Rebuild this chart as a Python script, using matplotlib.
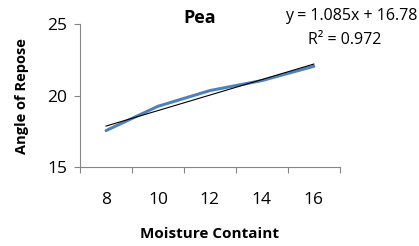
import numpy as np
import matplotlib
matplotlib.use('Agg')
import matplotlib.pyplot as plt

plt.rcParams['font.family'] = ['Open Sans', 'DejaVu Sans']

moisture = ['8', '10', '12', '14', '16']
angle = [17.55, 19.25, 20.35, 21.05, 22.05]
slope = 1.085
intercept = 16.78

fig = plt.figure(figsize=(4.19, 2.46), dpi=100)
ax = fig.add_axes([0.191, 0.321, 0.62, 0.581])

x = np.arange(1, len(moisture) + 1)
ax.plot(x, angle, color='#4F81BD', lw=2.2, solid_capstyle='round', zorder=2)
ax.plot(x, slope * x + intercept, color='black', lw=0.8, zorder=3)

ax.set_xlim(0.5, len(moisture) + 0.5)
ax.set_ylim(15, 25)
ax.set_yticks([15, 20, 25])
ax.set_xticks(np.arange(0.5, len(moisture) + 1, 1))
ax.set_xticklabels([])
ax.set_xticks(x, minor=True)
ax.set_xticklabels(moisture, minor=True)
ax.tick_params(axis='x', which='major', length=4, color='#868686', direction='out')
ax.tick_params(axis='x', which='minor', length=0, pad=18, labelsize=12.5)
ax.tick_params(axis='y', length=4, color='#868686', labelsize=12.5, pad=5)

for s in ['top', 'right']:
    ax.spines[s].set_visible(False)
for s in ['left', 'bottom']:
    ax.spines[s].set_color('#868686')
    ax.spines[s].set_linewidth(0.8)

ax.set_title('Pea', fontsize=13, fontweight='bold', x=0.46, y=0.95)
ax.set_xlabel('Moisture Containt', fontsize=11, fontweight='bold', labelpad=14)
ax.set_ylabel('Angle of Repose', fontsize=10.5, fontweight='bold', labelpad=13)

fig.text(0.997, 0.935, 'y = 1.085x + 16.78', fontsize=11.5, ha='right', va='center')
fig.text(0.823, 0.838, 'R² = 0.972', fontsize=11.5, ha='center', va='center')

plt.savefig('out.png', dpi=100)
